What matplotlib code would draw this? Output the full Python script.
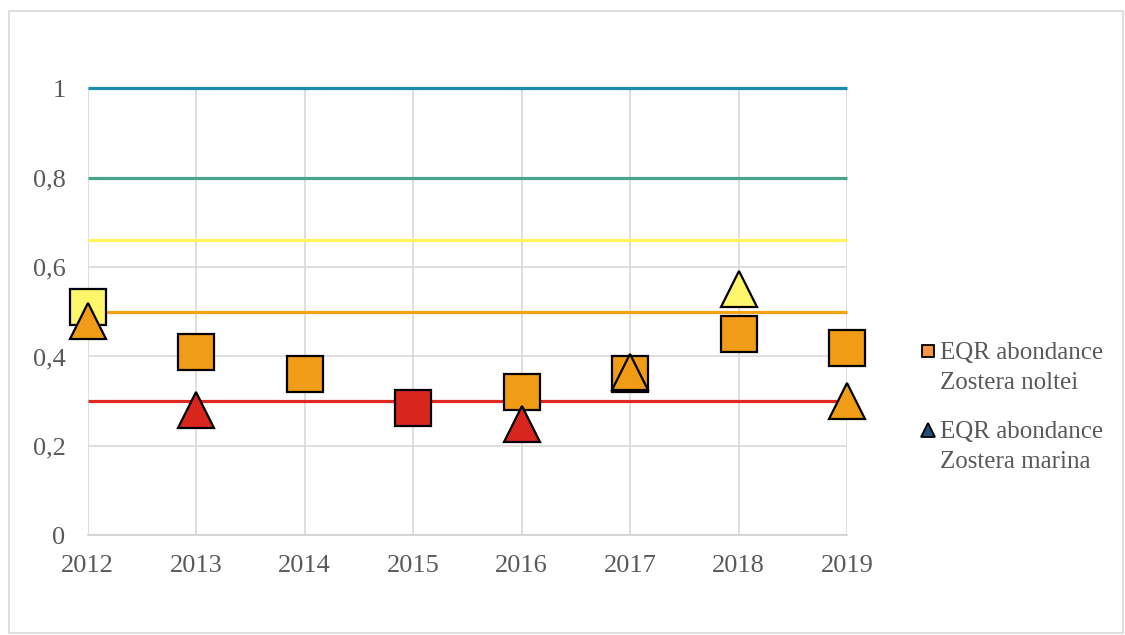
import matplotlib
matplotlib.use("Agg")
import matplotlib.pyplot as plt
from matplotlib.lines import Line2D
from matplotlib.patches import Rectangle

# data
years = [2012, 2013, 2014, 2015, 2016, 2017, 2018, 2019]
noltei = [0.51, 0.41, 0.36, 0.285, 0.32, 0.36, 0.45, 0.42]
marina_years = [2012, 2013, 2016, 2017, 2018, 2019]
marina = [0.48, 0.28, 0.25, 0.365, 0.55, 0.30]
# class boundaries (horizontal reference lines)
bounds = [1.0, 0.8, 0.66, 0.5, 0.3]
bound_colors = ['#1B8CAB', '#4AA38A', '#FFF45A', '#F5A214', '#E0291F']
ytick_vals = [0, 0.2, 0.4, 0.6, 0.8, 1]
ytick_labels = ['0', '0,2', '0,4', '0,6', '0,8', '1']
legend_labels = ['EQR abondance\nZostera noltei', 'EQR abondance\nZostera marina']


def class_color(v):
    if v < 0.3:
        return '#D9261C'
    if v < 0.5:
        return '#F09C17'
    return '#FFF56B'


plt.rcParams['font.family'] = ['Liberation Serif', 'DejaVu Serif']
txt = '#595959'

fig = plt.figure(figsize=(11.25, 6.35), dpi=100)
ax = fig.add_axes([0.078, 0.157, 0.675, 0.704])

for b, c in zip(bounds, bound_colors):
    ax.plot([years[0], years[-1]], [b, b], color=c, lw=2.3, zorder=2,
            solid_capstyle='butt', clip_on=False)

for x, v in zip(years, noltei):
    ax.plot(x, v, 's', ms=26, mfc=class_color(v), mec='black', mew=1.6,
            zorder=3, clip_on=False)
for x, v in zip(marina_years, marina):
    ax.plot(x, v, '^', ms=26, mfc=class_color(v), mec='black', mew=1.6,
            zorder=4, clip_on=False)

ax.set_xlim(2012, 2019)
ax.set_ylim(0, 1)
ax.set_xticks(years)
ax.set_xticklabels([str(y) for y in years])
ax.set_yticks(ytick_vals)
ax.set_yticklabels(ytick_labels)
ax.grid(True, color='#D9D9D9', lw=1.2, zorder=0)
ax.set_axisbelow(True)
for s in ['top', 'right', 'left']:
    ax.spines[s].set_visible(False)
ax.spines['bottom'].set_color('#D0D0D0')
ax.spines['bottom'].set_linewidth(1.2)
ax.tick_params(length=0, labelsize=19, colors=txt)
ax.tick_params(axis='x', pad=14)
ax.tick_params(axis='y', pad=16)

# legend drawn by hand so the marker sits on the first line of the label
leg_markers = [dict(marker='s', ms=8.5, mfc='#F79646'),
               dict(marker='^', ms=9.5, mfc='#1F4E79')]
for i, (lab, mk) in enumerate(zip(legend_labels, leg_markers)):
    y0 = 0.447 - i * 0.1245
    fig.add_artist(Line2D([0.8249], [y0], ls='', mec='black', mew=1.3,
                          transform=fig.transFigure, **mk))
    fig.text(0.8356, y0 + 0.014, lab, ha='left', va='top', fontsize=18,
             color=txt, linespacing=1.45)

fig.patches.append(Rectangle((0.008, 0.003), 0.99, 0.98, transform=fig.transFigure,
                             fill=False, ec='#D9D9D9', lw=1.2))

fig.savefig('out.png', dpi=100)
